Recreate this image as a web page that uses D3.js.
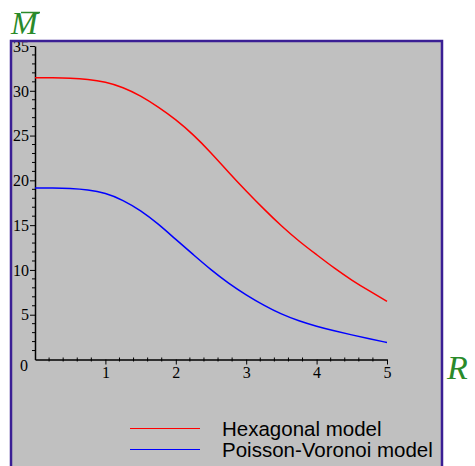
<!DOCTYPE html>
<html>
<head>
<meta charset="utf-8">
<script src="https://cdn.jsdelivr.net/npm/d3@7"></script>
<style>
  html, body { margin: 0; padding: 0; background: #fff; }
  svg { display: block; }
  .tick-label { font-family: "Liberation Serif", "Times New Roman", serif; font-size: 16px; fill: #000; }
</style>
</head>
<body>
<svg id="chart" width="475" height="466"></svg>
<script>
// R values sampled every 0.25
const rValues = [0, 0.25, 0.5, 0.75, 1, 1.25, 1.5, 1.75, 2, 2.25, 2.5,
                 2.75, 3, 3.25, 3.5, 3.75, 4, 4.25, 4.5, 4.75, 5];
const hexagonal = [31.45, 31.45, 31.42, 31.3, 31.0, 30.4, 29.45, 28.2, 26.8, 25.1, 23.1,
                   20.9, 18.8, 16.8, 14.9, 13.2, 11.7, 10.2, 8.85, 7.65, 6.5];
const poissonVoronoi = [19.15, 19.15, 19.1, 18.95, 18.6, 17.8, 16.65, 15.15, 13.4, 11.7, 10.0,
                        8.5, 7.2, 6.05, 5.05, 4.3, 3.7, 3.2, 2.75, 2.3, 1.9];
const seriesNames = ['Hexagonal model', 'Poisson-Voronoi model'];
const seriesColors = ['#ff0000', '#0000ff'];
const xTicks = [1, 2, 3, 4, 5];
const yTicks = [5, 10, 15, 20, 25, 30, 35];

const svg = d3.select('#chart');

const x = d3.scaleLinear().domain([0, 5]).range([35, 387]);
const y = d3.scaleLinear().domain([0, 35]).range([359.5, 46]);

// Plot panel
svg.append('rect')
  .attr('x', 11).attr('y', 41)
  .attr('width', 431).attr('height', 440)
  .attr('fill', '#c0c0c0');

// Minor ticks
const xMinor = d3.range(0.2, 5.001, 0.2).filter(v => Math.abs(v - Math.round(v)) > 1e-6);
svg.append('g').selectAll('line').data(xMinor).join('line')
  .attr('x1', d => x(d)).attr('x2', d => x(d))
  .attr('y1', y(0) - 2).attr('y2', y(0) + 2)
  .attr('stroke', '#000').attr('stroke-width', 1);

const yMinor = d3.range(1, 35).filter(v => v % 5 !== 0);
svg.append('g').selectAll('line').data(yMinor).join('line')
  .attr('x1', x(0) - 3).attr('x2', x(0))
  .attr('y1', d => y(d)).attr('y2', d => y(d))
  .attr('stroke', '#000').attr('stroke-width', 1);

// Axes
const xAxis = svg.append('g')
  .attr('transform', `translate(0,${y(0)})`)
  .call(d3.axisBottom(x).tickValues(xTicks).tickSize(5).tickSizeOuter(0).tickPadding(2)
    .tickFormat(d3.format('d')));
const yAxis = svg.append('g')
  .attr('transform', `translate(${x(0)},0)`)
  .call(d3.axisLeft(y).tickValues(yTicks).tickSize(5).tickSizeOuter(0).tickPadding(1)
    .tickFormat(d3.format('d')));

[xAxis, yAxis].forEach(a => {
  a.attr('font-size', null).attr('font-family', null);
  a.select('.domain').attr('stroke', '#000').attr('stroke-width', 1.5);
  a.selectAll('.tick line').attr('stroke', '#000');
  a.selectAll('.tick text').attr('class', 'tick-label').attr('fill', null);
});
yAxis.selectAll('.tick text').attr('dy', '0.33em');

// origin label
svg.append('text')
  .attr('class', 'tick-label')
  .attr('x', 28).attr('y', 371)
  .attr('text-anchor', 'end')
  .text('0');

// Curves
const line = d3.line()
  .x((d, i) => x(rValues[i]))
  .y(d => y(d))
  .curve(d3.curveBasis);

[hexagonal, poissonVoronoi].forEach((s, i) => {
  svg.append('path')
    .datum(s)
    .attr('d', line)
    .attr('fill', 'none')
    .attr('stroke', seriesColors[i])
    .attr('stroke-width', 1.5);
});

// Legend
const legend = svg.append('g');
seriesNames.forEach((name, i) => {
  const ly = 428.5 + i * 21;
  legend.append('line')
    .attr('x1', 130).attr('x2', 200)
    .attr('y1', ly).attr('y2', ly)
    .attr('stroke', seriesColors[i]).attr('stroke-width', 1.2);
  legend.append('text')
    .attr('x', 222).attr('y', 436 + i * 20.5)
    .attr('font-family', '"Liberation Sans", Arial, sans-serif')
    .attr('font-size', '20.5px')
    .attr('fill', '#000')
    .text(name);
});

// Panel border
svg.append('rect')
  .attr('x', 11).attr('y', 41)
  .attr('width', 431).attr('height', 440)
  .attr('fill', 'none')
  .attr('stroke', '#3a1f94')
  .attr('stroke-width', 2.5);

// Axis titles
const titleColor = '#2a8a2a';
svg.append('text')
  .attr('x', 11).attr('y', 34)
  .attr('font-family', '"Liberation Serif", "Times New Roman", serif')
  .attr('font-style', 'italic')
  .attr('font-size', '32px')
  .attr('fill', titleColor)
  .text('M');
svg.append('line')
  .attr('x1', 21).attr('x2', 40)
  .attr('y1', 12.5).attr('y2', 12.5)
  .attr('stroke', titleColor).attr('stroke-width', 1.5);
svg.append('text')
  .attr('x', 447).attr('y', 379)
  .attr('font-family', '"Liberation Serif", "Times New Roman", serif')
  .attr('font-style', 'italic')
  .attr('font-size', '34px')
  .attr('fill', titleColor)
  .text('R');
</script>
</body>
</html>
